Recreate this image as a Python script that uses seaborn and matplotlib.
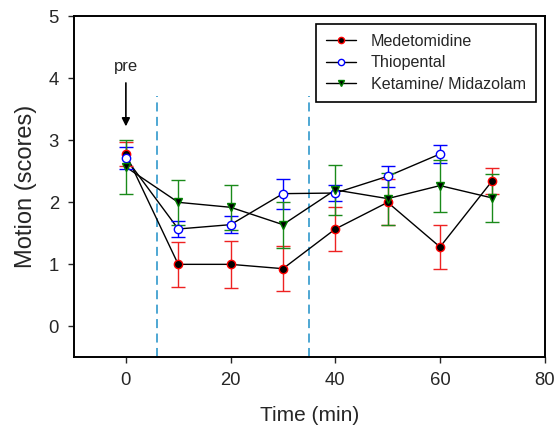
import numpy as np
import pandas as pd
import matplotlib
matplotlib.use("Agg")
import matplotlib.pyplot as plt
import seaborn as sns

sns.set_style("ticks")
plt.rcParams['font.family'] = ['Liberation Sans', 'DejaVu Sans']

time_all = [0, 10, 20, 30, 40, 50, 60, 70]
time_thio = [0, 10, 20, 30, 40, 50, 60]

med_vals = [2.78, 1.0, 1.0, 0.93, 1.57, 2.0, 1.28, 2.35]
med_err = [0.2, 0.36, 0.38, 0.36, 0.36, 0.37, 0.36, 0.21]

thio_vals = [2.71, 1.57, 1.64, 2.14, 2.15, 2.42, 2.78]
thio_err = [0.18, 0.13, 0.14, 0.24, 0.13, 0.17, 0.15]

ket_vals = [2.57, 2.0, 1.92, 1.64, 2.2, 2.06, 2.27, 2.07]
ket_err = [0.43, 0.36, 0.36, 0.37, 0.41, 0.42, 0.42, 0.39]

labels = ["Medetomidine", "Thiopental", "Ketamine/ Midazolam"]

fig, ax = plt.subplots(figsize=(5.57, 4.29), dpi=100)
fig.subplots_adjust(left=0.132, right=0.978, top=0.962, bottom=0.167)

series = [
    (labels[0], time_all, med_vals, med_err, dict(marker='o', mfc='black', mec='red', ecolor='#ee2222', ms=6)),
    (labels[1], time_thio, thio_vals, thio_err, dict(marker='o', mfc='white', mec='blue', ecolor='blue', ms=6)),
    (labels[2], time_all, ket_vals, ket_err, dict(marker='v', mfc='black', mec='green', ecolor='#1a8a1a', ms=6)),
]

handles = []
for name, t, v, e, st in series:
    df = pd.DataFrame({"t": t, "v": v})
    sns.lineplot(data=df, x="t", y="v", ax=ax, color='black', lw=1.0, zorder=2, legend=False)
    ax.errorbar(t, v, yerr=e, fmt='none', ecolor=st['ecolor'], elinewidth=1.0, capsize=5, capthick=1.0, zorder=3)
    ax.plot(t, v, linestyle='none', marker=st['marker'], markerfacecolor=st['mfc'],
            markeredgecolor=st['mec'], markersize=st['ms'], markeredgewidth=1.0, zorder=4)
    h, = ax.plot([], [], color='black', lw=1.0, marker=st['marker'], markerfacecolor=st['mfc'],
                 markeredgecolor=st['mec'], markersize=4.5, markeredgewidth=1.0)
    handles.append(h)

for xv in [6, 35]:
    ax.plot([xv, xv], [-0.5, 3.72], color='#40a0d0', linestyle=(0, (5, 3)), lw=1.3, zorder=1)

ax.annotate("", xy=(0, 3.18), xytext=(0, 3.97),
            arrowprops=dict(arrowstyle='-|>', color='black', lw=1.2, mutation_scale=12))
ax.text(0, 4.19, "pre", ha='center', va='center', fontsize=12)

ax.set_xlim(-10, 80)
ax.set_ylim(-0.5, 5)
ax.set_xticks([0, 20, 40, 60, 80])
ax.set_yticks([0, 1, 2, 3, 4, 5])
ax.set_xlabel("Time (min)", fontsize=15, labelpad=12)
ax.set_ylabel("Motion (scores)", fontsize=17, labelpad=8)
ax.tick_params(axis='both', labelsize=13.3, direction='out', length=4.5, width=1, pad=6)
for s in ax.spines.values():
    s.set_linewidth(1.4)
    s.set_color('black')

leg = ax.legend(handles, labels, loc='upper right', fontsize=11.6, frameon=True,
                fancybox=False, edgecolor='black', framealpha=1, handlelength=1.9,
                handletextpad=0.9, borderpad=0.62, labelspacing=0.39,
                borderaxespad=0, bbox_to_anchor=(0.981, 0.977))
leg.get_frame().set_linewidth(1.2)

fig.savefig("out.png", dpi=100)
